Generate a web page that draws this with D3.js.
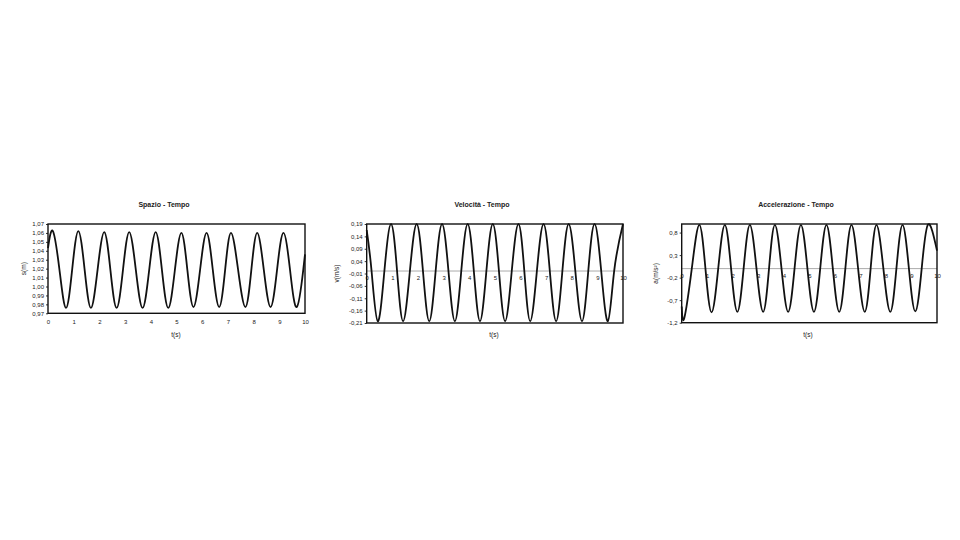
<!DOCTYPE html>
<html>
<head>
<meta charset="utf-8">
<script src="https://cdn.jsdelivr.net/npm/d3@7"></script>
<style>
  body { margin: 0; background: #fff; }
  svg { display: block; }
  text { font-family: Arial, "Liberation Sans", sans-serif; fill: #222; }
</style>
</head>
<body>
<svg id="chart" width="960" height="540"></svg>
<script>
// values: extremes and mid crossings of each wave
const spaceTime = [0, 0.19, 0.445, 0.70, 0.94, 1.18, 1.425, 1.67, 1.93, 2.19, 2.43, 2.67, 2.915, 3.16, 3.42, 3.68,
    3.935, 4.19, 4.435, 4.68, 4.935, 5.19, 5.425, 5.66, 5.915, 6.17, 6.415, 6.66, 6.89, 7.12, 7.40, 7.68,
    7.91, 8.14, 8.40, 8.66, 8.91, 9.16, 9.42, 9.68, 9.93, 10]
const spaceValue = [1.043, 1.062, 1.019, 0.976, 1.019, 1.062, 1.019, 0.976, 1.019, 1.061, 1.018, 0.976, 1.018, 1.061, 1.018, 0.976,
    1.018, 1.061, 1.018, 0.976, 1.018, 1.060, 1.018, 0.977, 1.018, 1.060, 1.018, 0.977, 1.018, 1.060, 1.018, 0.977,
    1.018, 1.060, 1.018, 0.977, 1.018, 1.060, 1.018, 0.977, 1.018, 1.036]

const velTime = [0, 0.19, 0.43, 0.69, 0.95, 1.185, 1.42, 1.685, 1.95, 2.195, 2.44, 2.69, 2.94, 3.19, 3.44, 3.69,
    3.94, 4.18, 4.42, 4.67, 4.92, 5.16, 5.40, 5.66, 5.92, 6.15, 6.38, 6.64, 6.90, 7.145, 7.39, 7.635,
    7.88, 8.14, 8.40, 8.645, 8.89, 9.15, 9.41, 9.655, 10]
const velValue = [0.165, 0, -0.203, 0, 0.19, 0, -0.203, 0, 0.19, 0, -0.203, 0, 0.19, 0, -0.203, 0,
    0.19, 0, -0.203, 0, 0.19, 0, -0.203, 0, 0.19, 0, -0.203, 0, 0.19, 0, -0.203, 0,
    0.19, 0, -0.203, 0, 0.19, 0, -0.203, 0, 0.19]

const accTime = [0, 0.10, 0.395, 0.69, 0.93, 1.17, 1.43, 1.69, 1.935, 2.18, 2.425, 2.67, 2.93, 3.19, 3.42, 3.65,
    3.91, 4.17, 4.42, 4.67, 4.925, 5.18, 5.425, 5.67, 5.92, 6.17, 6.41, 6.65, 6.91, 7.17, 7.40, 7.63,
    7.90, 8.17, 8.41, 8.65, 8.90, 9.15, 9.40, 9.65, 10]
const accValue = [-0.84, -1.10, 0, 0.97, 0, -0.97, 0, 0.97, 0, -0.96, 0, 0.97, 0, -0.96, 0, 0.97,
    0, -0.96, 0, 0.97, 0, -0.96, 0, 0.97, 0, -0.96, 0, 0.97, 0, -0.96, 0, 0.97,
    0, -0.96, 0, 0.97, 0, -0.95, 0, 0.98, 0.40]

const timeTicks = [0, 1, 2, 3, 4, 5, 6, 7, 8, 9, 10]
const spaceTicks = [0.97, 0.98, 0.99, 1.00, 1.01, 1.02, 1.03, 1.04, 1.05, 1.06, 1.07]
const velTicks = [-0.21, -0.16, -0.11, -0.06, -0.01, 0.04, 0.09, 0.14, 0.19]
const accTicks = [-1.2, -0.7, -0.2, 0.3, 0.8]

const titles = ['Spazio - Tempo', 'Velocità - Tempo', 'Accelerazione - Tempo']
const yTitles = ['s(m)', 'v(m/s)', 'a(m/s²)']
const xTitle = 't(s)'

const svg = d3.select('#chart')

function commaFormat(decimals) {
    return v => v.toFixed(decimals).replace('.', ',').replace('-0,00', '0,00')
}

function drawPanel(p) {
    const x = d3.scaleLinear().domain([0, 10]).range([p.left, p.right])
    const y = d3.scaleLinear().domain(p.yDomain).range([p.bottom, p.top])
    const g = svg.append('g')

    // title
    g.append('text').attr('x', p.titleX).attr('y', 207)
        .attr('text-anchor', 'middle').style('font-size', '7px').style('font-weight', 'bold')
        .text(p.title)

    // y axis
    const yAxis = g.append('g').attr('transform', `translate(${p.left},0)`)
        .call(d3.axisLeft(y).tickValues(p.yTicks).tickFormat(commaFormat(p.decimals)).tickSize(2).tickPadding(2))
    yAxis.select('.domain').remove()
    yAxis.selectAll('line').attr('stroke', '#333')
    yAxis.selectAll('text').style('font-size', '6px').style('font-family', 'Arial, "Liberation Sans", sans-serif').attr('fill', '#222')

    // x axis, on the zero line when there is one
    const axisY = p.zeroLine ? y(0) : p.bottom
    if (p.zeroLine) {
        g.append('line').attr('x1', p.left).attr('x2', p.right)
            .attr('y1', axisY).attr('y2', axisY)
            .attr('stroke', '#aaa').attr('stroke-width', 1)
    }
    const xAxis = g.append('g').attr('transform', `translate(0,${axisY})`)
        .call(d3.axisBottom(x).tickValues(timeTicks).tickSize(0).tickPadding(p.zeroLine ? 5 : 6))
    xAxis.select('.domain').remove()
    xAxis.selectAll('text').style('font-size', '6px').style('font-family', 'Arial, "Liberation Sans", sans-serif').attr('fill', '#222')

    // curve
    const line = d3.line()
        .x(d => x(d[0]))
        .y(d => y(d[1]))
        .curve(d3.curveNatural)
    g.append('path')
        .datum(p.times.map((t, i) => [t, p.values[i]]))
        .attr('d', line)
        .attr('fill', 'none')
        .attr('stroke', '#111')
        .attr('stroke-width', 1.8)

    // plot box
    g.append('rect').attr('x', p.left).attr('y', p.top)
        .attr('width', p.right - p.left).attr('height', p.bottom - p.top)
        .attr('fill', 'none').attr('stroke', '#111').attr('stroke-width', 1.4)

    // axis titles
    g.append('text')
        .attr('transform', `translate(${p.yTitleX},${(p.top + p.bottom) / 2}) rotate(-90)`)
        .attr('text-anchor', 'middle').style('font-size', '6.5px')
        .text(p.yTitle)
    g.append('text').attr('x', p.xTitleX).attr('y', 337)
        .attr('text-anchor', 'middle').style('font-size', '6.5px')
        .text(xTitle)
}

drawPanel({
    left: 48, right: 305, top: 224, bottom: 313.3,
    yDomain: [0.97, 1.07], yTicks: spaceTicks, decimals: 2, zeroLine: false,
    times: spaceTime, values: spaceValue,
    title: titles[0], titleX: 164, yTitle: yTitles[0], yTitleX: 26, xTitleX: 176
})

drawPanel({
    left: 366.7, right: 623, top: 224, bottom: 323,
    yDomain: [-0.21, 0.19], yTicks: velTicks, decimals: 2, zeroLine: true,
    times: velTime, values: velValue,
    title: titles[1], titleX: 482, yTitle: yTitles[1], yTitleX: 339, xTitleX: 494
})

drawPanel({
    left: 681.7, right: 937, top: 224, bottom: 322.7,
    yDomain: [-1.2, 0.99], yTicks: accTicks, decimals: 1, zeroLine: true,
    times: accTime, values: accValue,
    title: titles[2], titleX: 796, yTitle: yTitles[2], yTitleX: 658, xTitleX: 808
})
</script>
</body>
</html>
